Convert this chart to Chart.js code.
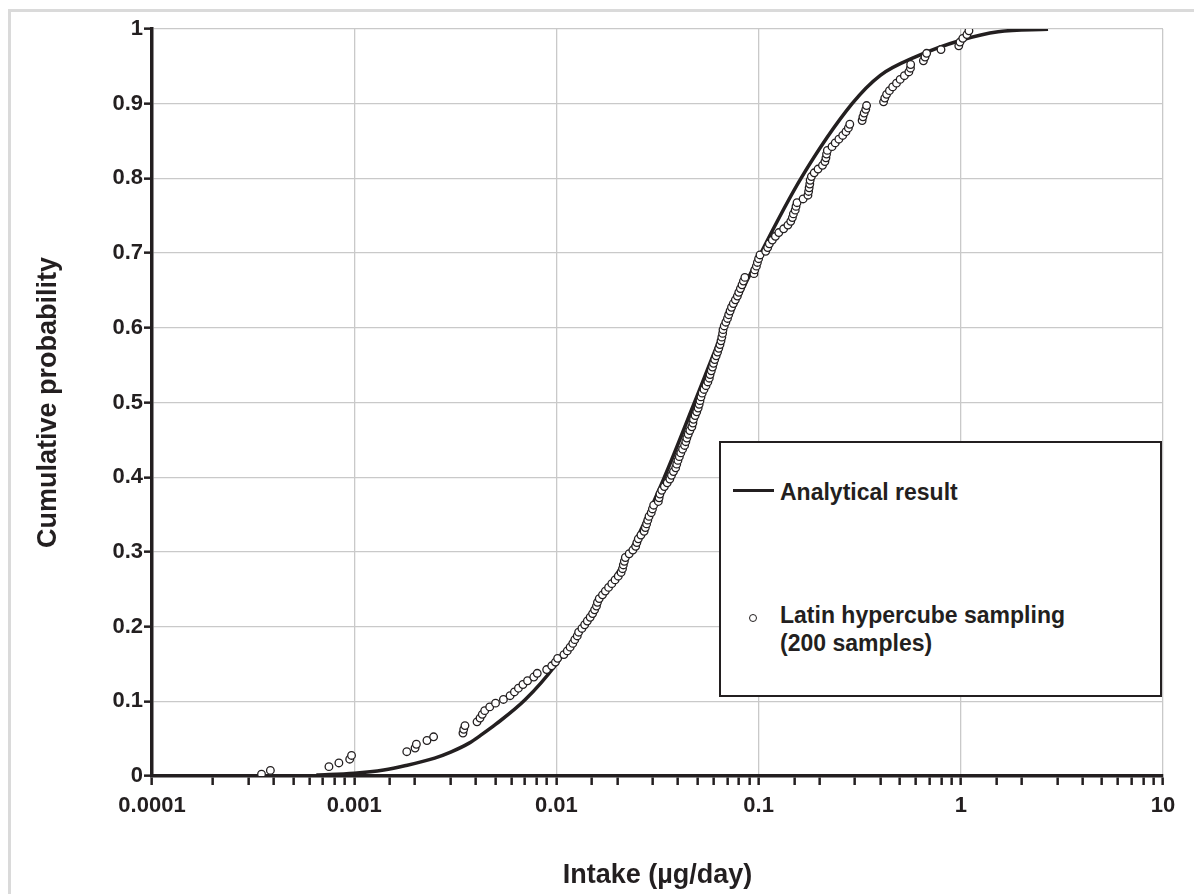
<!DOCTYPE html>
<html lang="en">
<head>
  <meta charset="UTF-8" />
  <title>Cumulative probability of intake</title>
  <script src="https://cdn.jsdelivr.net/npm/chart.js"></script>
  <style>
    html,body{margin:0;padding:0;background:#fff;overflow:hidden}
    body{width:1194px;height:894px;position:relative;font-family:'Liberation Sans',Arial,sans-serif}
    #frame{position:absolute;left:8px;top:9px;width:1300px;height:1000px;border:3px solid #dadada}
    #myChart{position:absolute;left:0;top:0}
    #legend{position:absolute;left:719px;top:441px;width:443px;height:256px;box-sizing:border-box;border:2px solid #231f20;background:#fff}
    .lg-text{position:absolute;left:780px;font-weight:bold;font-size:23px;line-height:27.7px;color:#231f20;white-space:nowrap}
    .lg-line{position:absolute;left:733px;top:489px;width:41px;height:3.4px;background:#231f20}
    .lg-dot{position:absolute;left:748.5px;top:613.5px;width:6px;height:6px;border:1.2px solid #231f20;border-radius:50%;background:#fff}
  </style>
</head>
<body>
  <div id="frame"></div>
  <canvas id="myChart" width="1194" height="894"></canvas>

  <!-- legend box sits inside the plot, bottom right -->
  <div id="legend"></div>
  <div class="lg-line"></div>
  <div class="lg-text" id="lg1" style="top:479.2px"></div>
  <div class="lg-dot"></div>
  <div class="lg-text" id="lg2" style="top:602.2px"></div>

<script>
/* ---------- Data ---------- */
const xTitle = 'Intake (µg/day)';
const yTitle = 'Cumulative probability';
const legendLabels = ['Analytical result', 'Latin hypercube sampling', '(200 samples)'];
const xTickLabels = ['0.0001','0.001','0.01','0.1','1','10'];
const yTickLabels = ['0','0.1','0.2','0.3','0.4','0.5','0.6','0.7','0.8','0.9','1'];

// analytical curve
const curveX = [0.00065,0.001,0.0014,0.0018,0.0025,0.003,0.0037,0.0043,0.005,0.007,0.01,0.0133,
                0.0231,0.0342,0.0482,0.0679,0.1026,0.162,0.29,0.40,0.589,1.0,1.53,2.7];
const curveY = [0.0013,0.0036,0.008,0.014,0.024,0.032,0.044,0.056,0.069,0.102,0.150,0.2,
                0.3,0.4,0.5,0.6,0.7,0.8,0.9,0.938,0.962,0.985,0.9964,0.9995];

// Latin hypercube samples (200)
const sampleX = [
  0.000348,0.000385,0.00075,0.00084,0.00095,0.00097,0.00182,0.00200,0.00203,0.00229,
  0.00247,0.00345,0.00348,0.00353,0.00405,0.00419,0.00430,0.00442,0.00468,0.00500,
  0.00547,0.00590,0.00620,0.00649,0.00683,0.00720,0.00773,0.00804,0.00895,0.00948,
  0.00989,0.01014,0.01089,0.01132,0.01169,0.01205,0.01233,0.01268,0.01288,0.01337,
  0.01380,0.01422,0.01469,0.01510,0.01545,0.01578,0.01596,0.01629,0.01690,0.01746,
  0.01811,0.01879,0.01950,0.02023,0.02089,0.02123,0.02143,0.02168,0.02193,0.02291,
  0.02388,0.02466,0.02500,0.02541,0.02618,0.02716,0.02754,0.02793,0.02831,0.02871,
  0.02944,0.02985,0.03027,0.03192,0.03221,0.03251,0.03319,0.03420,0.03532,0.03639,
  0.03707,0.03793,0.03890,0.03936,0.03990,0.04055,0.04121,0.04207,0.04305,0.04365,
  0.04416,0.04487,0.04571,0.04677,0.04732,0.04764,0.04853,0.04943,0.05023,0.05082,
  0.05129,0.05188,0.05260,0.05370,0.05495,0.05610,0.05702,0.05754,0.05834,0.05916,
  0.05984,0.06067,0.06166,0.06266,0.06353,0.06442,0.06516,0.06577,0.06637,0.06668,
  0.06761,0.06887,0.07015,0.07112,0.07228,0.07345,0.07499,0.07674,0.07852,0.07980,
  0.08128,0.08279,0.08414,0.08551,0.09484,0.09572,0.09750,0.09863,0.1000,0.1016,
  0.1084,0.1109,0.1130,0.1169,0.1211,0.1259,0.1330,0.1396,0.1442,0.1469,
  0.1486,0.1517,0.1531,0.1549,0.1660,0.1754,0.1767,0.1778,0.1791,0.1799,
  0.1824,0.1884,0.1968,0.2070,0.2128,0.2153,0.2168,0.2188,0.2307,0.2393,
  0.2495,0.2606,0.2704,0.2780,0.2825,0.3251,0.3281,0.3327,0.3388,0.3420,
  0.4150,0.4207,0.4295,0.4436,0.4603,0.4808,0.5012,0.5260,0.5534,0.5636,
  0.5649,0.6531,0.6653,0.6776,0.7980,0.9772,0.9908,1.023,1.072,1.097
];
const sampleY = [
  0.0025,0.0075,0.0125,0.0175,0.0225,0.0275,0.0325,0.0375,0.0425,0.0475,
  0.0525,0.0575,0.0625,0.0675,0.0725,0.0775,0.0825,0.0875,0.0925,0.0975,
  0.1025,0.1075,0.1125,0.1175,0.1225,0.1275,0.1325,0.1375,0.1425,0.1475,
  0.1525,0.1575,0.1625,0.1675,0.1725,0.1775,0.1825,0.1875,0.1925,0.1975,
  0.2025,0.2075,0.2125,0.2175,0.2225,0.2275,0.2325,0.2375,0.2425,0.2475,
  0.2525,0.2575,0.2625,0.2675,0.2725,0.2775,0.2825,0.2875,0.2925,0.2975,
  0.3025,0.3075,0.3125,0.3175,0.3225,0.3275,0.3325,0.3375,0.3425,0.3475,
  0.3525,0.3575,0.3625,0.3675,0.3725,0.3775,0.3825,0.3875,0.3925,0.3975,
  0.4025,0.4075,0.4125,0.4175,0.4225,0.4275,0.4325,0.4375,0.4425,0.4475,
  0.4525,0.4575,0.4625,0.4675,0.4725,0.4775,0.4825,0.4875,0.4925,0.4975,
  0.5025,0.5075,0.5125,0.5175,0.5225,0.5275,0.5325,0.5375,0.5425,0.5475,
  0.5525,0.5575,0.5625,0.5675,0.5725,0.5775,0.5825,0.5875,0.5925,0.5975,
  0.6025,0.6075,0.6125,0.6175,0.6225,0.6275,0.6325,0.6375,0.6425,0.6475,
  0.6525,0.6575,0.6625,0.6675,0.6725,0.6775,0.6825,0.6875,0.6925,0.6975,
  0.7025,0.7075,0.7125,0.7175,0.7225,0.7275,0.7325,0.7375,0.7425,0.7475,
  0.7525,0.7575,0.7625,0.7675,0.7725,0.7775,0.7825,0.7875,0.7925,0.7975,
  0.8025,0.8075,0.8125,0.8175,0.8225,0.8275,0.8325,0.8375,0.8425,0.8475,
  0.8525,0.8575,0.8625,0.8675,0.8725,0.8775,0.8825,0.8875,0.8925,0.8975,
  0.9025,0.9075,0.9125,0.9175,0.9225,0.9275,0.9325,0.9375,0.9425,0.9475,
  0.9525,0.9575,0.9625,0.9675,0.9725,0.9775,0.9825,0.9875,0.9925,0.9975
];

/* ---------- Styling ---------- */
const INK  = '#231f20';
const GRID = '#c9c9c9';
const FONT = "'Liberation Sans', Arial, sans-serif";

const isDecade = v => Math.abs(Math.log10(v) - Math.round(Math.log10(v))) < 1e-6;

/* ---------- Legend text ---------- */
document.getElementById('lg1').textContent = legendLabels[0];
document.getElementById('lg2').innerHTML = legendLabels[1] + '<br>' + legendLabels[2];

/* ---------- Chart ---------- */
const curvePts  = curveX.map((x,i)=>({x, y:curveY[i]}));
const samplePts = sampleX.map((x,i)=>({x, y:sampleY[i]}));

const ctx = document.getElementById('myChart').getContext('2d');
const chart = new Chart(ctx,{
  type:'scatter',
  data:{datasets:[
    {label:legendLabels[0], data:curvePts, showLine:true, borderColor:INK, borderWidth:3.5,
     pointRadius:0, cubicInterpolationMode:'monotone', order:2},
    {label:legendLabels[1], data:samplePts, showLine:false, pointRadius:3.8, pointBorderWidth:1.3,
     pointBackgroundColor:'#fff', pointBorderColor:INK, order:1}
  ]},
  options:{
    responsive:false, animation:false,
    layout:{padding:{left:32, top:29, right:31, bottom:2}},
    plugins:{legend:{display:false}, tooltip:{enabled:false}},
    scales:{
      x:{
        type:'logarithmic', min:1e-4, max:10,
        afterFit(s){ s.height = 116; },
        border:{color:INK, width:3.5},
        grid:{
          color:c => (c.tick && isDecade(c.tick.value)) ? GRID : 'rgba(0,0,0,0)',
          lineWidth:1.3, tickColor:INK, tickWidth:2.5, tickLength:9
        },
        ticks:{
          autoSkip:false, maxRotation:0, minRotation:0, padding:8, color:INK,
          font:{size:22, weight:'bold', family:FONT},
          callback:v => isDecade(v) ? xTickLabels[Math.round(Math.log10(v)) + 4] : ''
        },
        title:{display:true, text:xTitle, color:INK, padding:0,
               font:{size:27, weight:'bold', family:FONT, lineHeight:1.2}}
      },
      y:{
        min:0, max:1,
        afterFit(s){ s.width = 120; },
        border:{color:INK, width:3.5},
        grid:{color:GRID, lineWidth:1.3, tickColor:INK, tickWidth:2.5, tickLength:8},
        ticks:{
          stepSize:0.1, padding:1, color:INK,
          font:{size:22, weight:'bold', family:FONT},
          callback:v => yTickLabels[Math.round(v*10)]
        },
        title:{display:true, text:yTitle, color:INK, padding:0,
               font:{size:27, weight:'bold', family:FONT, lineHeight:1.2}}
      }
    }
  }
});
</script>
</body>
</html>
